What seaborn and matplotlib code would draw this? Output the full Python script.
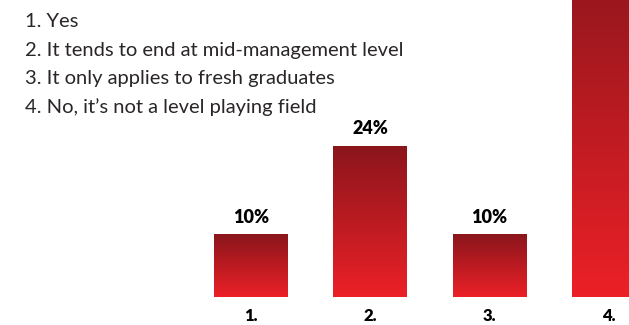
import numpy as np
import pandas as pd
import matplotlib
matplotlib.use("Agg")
import matplotlib.pyplot as plt
from matplotlib.colors import LinearSegmentedColormap
import seaborn as sns

# Survey answers and share of respondents (%)
answers = ["Yes",
           "It tends to end at mid-management level",
           "It only applies to fresh graduates",
           "No, it\u2019s not a level playing field"]
tick_labels = ["1.", "2.", "3.", "4."]
shares = [10, 24, 10, 56]
shown_labels = ["10%", "24%", "10%", None]

df = pd.DataFrame({"option": tick_labels, "share": shares})

sns.set_theme(style="white")
plt.rcParams["font.family"] = ["Lato", "DejaVu Sans"]

W, H = 629, 325
fig = plt.figure(figsize=(W / 100, H / 100), dpi=100)
ax = fig.add_axes([0, 28 / H, 1, 1 - 28 / H])

sns.barplot(data=df, x="option", y="share", ax=ax, width=0.62,
            color="#c01f26", saturation=1)

# Pixel-based limits: bar centres 119 px apart, first centre at x=251 px
px_per_unit = 119.3
xlim = (-251 / px_per_unit, (W - 251) / px_per_unit)
ylim = (0, 297 / 6.3)

# Vertical red gradient inside each bar (dark top, bright bottom)
cmap = LinearSegmentedColormap.from_list("redgrad", ["#ec2027", "#8a161c"])
grad = np.linspace(0, 1, 256).reshape(-1, 1)
for patch in ax.patches:
    x0, y0 = patch.get_x(), patch.get_y()
    w, h = patch.get_width(), patch.get_height()
    patch.set_facecolor("none")
    patch.set_edgecolor("none")
    im = ax.imshow(grad, cmap=cmap, origin="lower", aspect="auto",
                   extent=[x0, x0 + w, y0, y0 + h], zorder=2,
                   interpolation="bicubic")
    im.set_clip_path(patch)
ax.set_xlim(*xlim)
ax.set_ylim(*ylim)

# Value labels above bars
for i, (val, lab) in enumerate(zip(shares, shown_labels)):
    if lab is None:
        continue
    ax.annotate(lab, (i, val), xytext=(0, 6), textcoords="offset points",
                ha="center", va="bottom", fontsize=13, fontweight="heavy",
                color="#000000")

ax.set_xlabel("")
ax.set_ylabel("")
ax.set_yticks([])
ax.set_xticks(range(len(tick_labels)))
ax.set_xticklabels(tick_labels, fontsize=12, fontweight="heavy", color="#000000")
ax.tick_params(axis="x", length=0, pad=8)
sns.despine(ax=ax, left=True, bottom=True)

# Answer key in the upper left
for k, text in enumerate(answers):
    fig.text(25 / W, 1 - (27 + 28.7 * k) / H, f"{k + 1}. {text}",
             ha="left", va="baseline", fontsize=14.5, fontweight="normal",
             color="#2a2627")

fig.savefig("out.png", dpi=100)
